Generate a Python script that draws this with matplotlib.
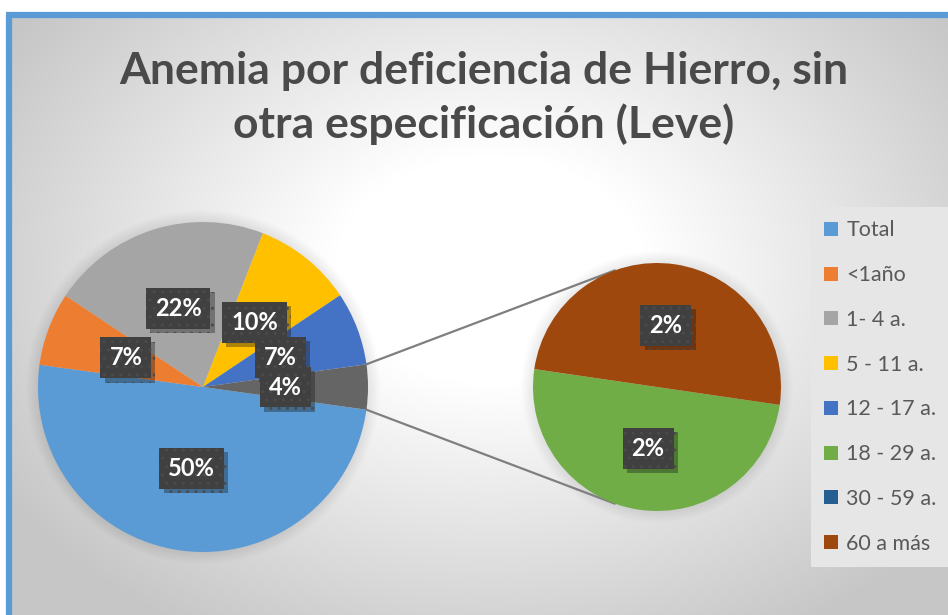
import numpy as np
import matplotlib.pyplot as plt
from matplotlib.patches import Patch, Circle, Rectangle
import matplotlib.patheffects as pe

plt.rcParams['font.family'] = ['Lato', 'DejaVu Sans']

categorias = ['Total', '<1año', '1- 4 a.', '5 - 11 a.', '12 - 17 a.',
              '18 - 29 a.', '30 - 59 a.', '60 a más']
valores = [50.0, 7.2, 21.6, 9.7, 7.2, 2.2, 0.0, 2.2]
colores = ['#5b9bd5', '#ed7d31', '#a5a5a5', '#ffc000', '#4472c4',
           '#70ad47', '#255e91', '#9e480e']
color_otros = '#656565'
titulo = 'Anemia por deficiencia de Hierro, sin\notra especificación (Leve)'

W, H = 948, 615
fig = plt.figure(figsize=(W / 100, H / 100), dpi=100)
ax = fig.add_axes([0, 0, 1, 1])
ax.set_xlim(0, W)
ax.set_ylim(0, H)
ax.axis('off')

# fondo con degradado radial
yy, xx = np.mgrid[0:H, 0:W]
d = np.sqrt(((xx - 490) / 520.0) ** 2 + ((yy - (H - 270)) / 380.0) ** 2)
g = 1 - 0.22 * np.clip((d - 0.3) / 0.8, 0, 1)
ax.imshow(np.dstack([g, g, g]), extent=(0, W, 0, H), origin='lower',
          zorder=0, aspect='auto')
ax.add_patch(Rectangle((0, H - 12), W, 12, color='white', zorder=0.5))
ax.add_patch(Rectangle((0, 0), 6, H, color='white', zorder=0.5))
ax.plot([9, 9], [0, H - 15], color='#5b9bd5', lw=4.5, solid_capstyle='butt', zorder=1)
ax.plot([6, W], [H - 15, H - 15], color='#5b9bd5', lw=4.5, solid_capstyle='butt', zorder=1)

# primer pie: categorias principales + "otros"
principal = valores[:5] + [sum(valores[5:])]
col_principal = colores[:5] + [color_otros]
c1, r1 = (203, H - 387), 165
secundario = [v for v in valores[5:] if v > 0]
col_secundario = [c for v, c in zip(valores[5:], colores[5:]) if v > 0]
c2, r2 = (657, H - 387), 124

total = sum(valores)
for c, r in [(c1, r1), (c2, r2)]:
    for i in range(10):
        ax.add_patch(Circle(c, r + 1 + i * 1.2, color='black', alpha=0.008,
                            lw=0, zorder=1.5))

otros_pct = principal[-1] / total * 360
w1, t1 = ax.pie(principal, colors=col_principal, center=c1, radius=r1,
                startangle=-otros_pct / 2, counterclock=False,
                wedgeprops=dict(linewidth=0), frame=True)[:2]
w2, t2 = ax.pie(secundario, colors=col_secundario, center=c2, radius=r2,
                startangle=171.7, counterclock=True,
                wedgeprops=dict(linewidth=0), frame=True)[:2]
for w in w1 + w2:
    w.set_zorder(2)

# etiquetas de porcentaje
def etiqueta(wedges, vals, centro, radio):
    for w, v in zip(wedges, vals):
        ang = np.deg2rad((w.theta1 + w.theta2) / 2)
        x = centro[0] + 0.5 * radio * np.cos(ang)
        y = centro[1] + 0.5 * radio * np.sin(ang)
        t = ax.text(x, y, '%.0f%%' % (v / total * 100), ha='center', va='center',
                    color='white', fontsize=17, fontweight='bold', zorder=5,
                    bbox=dict(boxstyle='square,pad=0.38', fc='#404040',
                              ec='#4b4b4b', lw=0, hatch='..'))
        t.get_bbox_patch().set_path_effects(
            [pe.SimplePatchShadow(offset=(3, -3), alpha=0.35), pe.Normal()])

etiqueta(w1, principal, c1, r1)
etiqueta(w2, secundario, c2, r2)

# lineas de conexion
wo = w1[-1]
for a1, a2 in [(wo.theta2, 110), (wo.theta1, 250)]:
    p1 = (c1[0] + r1 * np.cos(np.deg2rad(a1)), c1[1] + r1 * np.sin(np.deg2rad(a1)))
    p2 = (c2[0] + r2 * np.cos(np.deg2rad(a2)), c2[1] + r2 * np.sin(np.deg2rad(a2)))
    ax.plot([p1[0], p2[0]], [p1[1], p2[1]], color='#7f7f7f', lw=1.6, zorder=1.8)

ax.text(484, H - 98, titulo, ha='center', va='center', fontsize=32,
        fontweight='bold', color='#4a4a4a', linespacing=1.38, zorder=5)

handles = [Patch(facecolor=c, edgecolor='none') for c in colores]
leg = ax.legend(handles, categorias, loc='upper left',
                bbox_to_anchor=(811, H - 207), bbox_transform=ax.transData,
                frameon=True, fancybox=False, borderaxespad=0, fontsize=15.5,
                labelcolor='#595959', labelspacing=1.15, handlelength=0.62,
                handleheight=0.62, handletextpad=0.4, borderpad=0.62)
leg.get_frame().set_facecolor('#e6e6e6')
leg.get_frame().set_edgecolor('none')
leg.get_frame().set_alpha(1)
leg.set_zorder(5)

ax.set_xlim(0, W)
ax.set_ylim(0, H)
ax.set_aspect('auto')
fig.savefig('out.png', dpi=100)
